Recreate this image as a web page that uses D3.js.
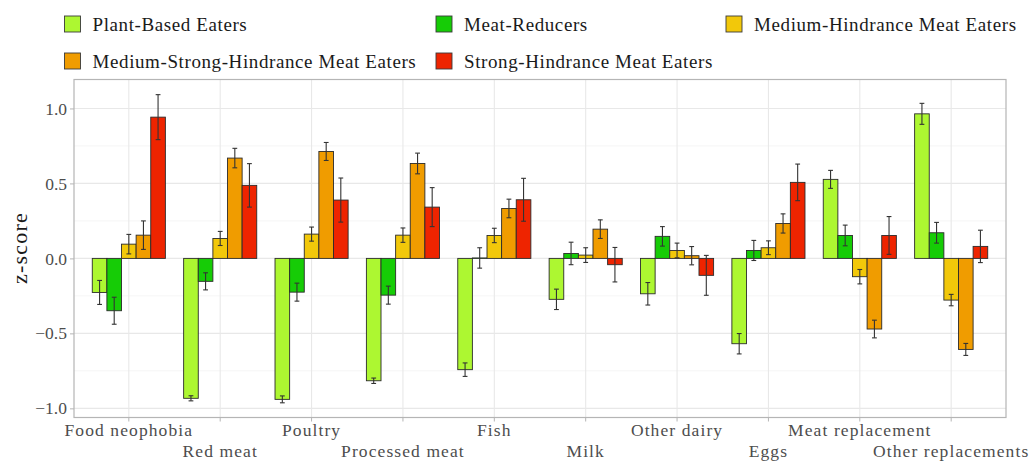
<!DOCTYPE html>
<html>
<head>
<meta charset="utf-8">
<script src="https://cdn.jsdelivr.net/npm/d3@7"></script>
<style>
  html, body { margin: 0; padding: 0; background: #fff; }
  svg text { font-family: "Liberation Serif", "Times New Roman", serif; }
</style>
</head>
<body>
<svg id="chart" width="1032" height="461"></svg>
<script>
const SERIF = "'Liberation Serif', 'Times New Roman', serif";

// Food categories along the x axis
const categories = ["Food neophobia", "Red meat", "Poultry", "Processed meat", "Fish",
  "Milk", "Other dairy", "Eggs", "Meat replacement", "Other replacements"];

// Consumer segments (legend order)
const segments = ["Plant-Based Eaters", "Meat-Reducers", "Medium-Hindrance Meat Eaters",
  "Medium-Strong-Hindrance Meat Eaters", "Strong-Hindrance Meat Eaters"];
const segmentColors = ["#adf731", "#16cc06", "#f2c80a", "#f09c00", "#ee2400"];

// Mean z-scores per segment and their error-bar half widths
const plantBased        = [-0.227, -0.933, -0.940, -0.816, -0.742, -0.273, -0.236, -0.569, 0.527, 0.964];
const plantBasedErr     = [0.080, 0.017, 0.023, 0.018, 0.045, 0.068, 0.075, 0.068, 0.060, 0.070];
const meatReducers      = [-0.349, -0.153, -0.225, -0.245, 0.003, 0.033, 0.147, 0.053, 0.153, 0.171];
const meatReducersErr   = [0.090, 0.057, 0.060, 0.060, 0.068, 0.075, 0.065, 0.067, 0.069, 0.069];
const mediumHindrance   = [0.095, 0.133, 0.162, 0.155, 0.153, 0.022, 0.053, 0.071, -0.122, -0.278];
const mediumHindranceErr= [0.065, 0.047, 0.047, 0.048, 0.048, 0.049, 0.049, 0.046, 0.048, 0.038];
const mediumStrong      = [0.155, 0.669, 0.713, 0.633, 0.333, 0.195, 0.018, 0.233, -0.471, -0.607];
const mediumStrongErr   = [0.095, 0.065, 0.060, 0.069, 0.062, 0.062, 0.061, 0.064, 0.059, 0.040];
const strongHindrance   = [0.942, 0.487, 0.389, 0.342, 0.391, -0.042, -0.113, 0.507, 0.153, 0.080];
const strongHindranceErr= [0.150, 0.145, 0.147, 0.130, 0.143, 0.115, 0.133, 0.122, 0.126, 0.108];

const yTicks = [-1.0, -0.5, 0.0, 0.5, 1.0];
const yMinorTicks = [-0.75, -0.25, 0.25, 0.75];
const yTitle = "z-score";

const seriesValues = [plantBased, meatReducers, mediumHindrance, mediumStrong, strongHindrance];
const seriesErrors = [plantBasedErr, meatReducersErr, mediumHindranceErr, mediumStrongErr, strongHindranceErr];

const rows = [];
categories.forEach((c, i) => {
  segments.forEach((s, j) => {
    rows.push({ category: c, segment: s, value: seriesValues[j][i], err: seriesErrors[j][i], color: segmentColors[j] });
  });
});

const svg = d3.select("#chart");
const panel = { left: 74, right: 1006, top: 79.5, bottom: 417.5 };

const x = d3.scaleBand().domain(categories)
  .range([panel.left, panel.right]).paddingInner(0.2).paddingOuter(0.2);
const xInner = d3.scaleBand().domain(segments).range([0, x.bandwidth()]).padding(0);
const y = d3.scaleLinear().domain([-1.061, 1.193]).range([panel.bottom, panel.top]);

// Panel grid
const grid = svg.append("g");
grid.selectAll("line.minor").data(yMinorTicks).join("line")
  .attr("x1", panel.left).attr("x2", panel.right)
  .attr("y1", d => y(d)).attr("y2", d => y(d))
  .attr("stroke", "#f3f3f3").attr("stroke-width", 0.8);
grid.selectAll("line.major").data(yTicks).join("line")
  .attr("x1", panel.left).attr("x2", panel.right)
  .attr("y1", d => y(d)).attr("y2", d => y(d))
  .attr("stroke", "#e8e8e8").attr("stroke-width", 1.1);
grid.selectAll("line.vert").data(categories).join("line")
  .attr("x1", d => x(d) + x.bandwidth() / 2).attr("x2", d => x(d) + x.bandwidth() / 2)
  .attr("y1", panel.top).attr("y2", panel.bottom)
  .attr("stroke", "#e8e8e8").attr("stroke-width", 1.1);

// Bars
const zeroY = y(0);
svg.append("g").selectAll("rect").data(rows).join("rect")
  .attr("x", d => x(d.category) + xInner(d.segment))
  .attr("width", xInner.bandwidth())
  .attr("y", d => Math.min(y(d.value), zeroY))
  .attr("height", d => Math.abs(y(d.value) - zeroY))
  .attr("fill", d => d.color)
  .attr("stroke", "#2b2b2b").attr("stroke-width", 0.9);

// Error bars
const capHalf = 2.4;
const eb = svg.append("g").attr("stroke", "#333").attr("stroke-width", 1.1);
rows.forEach(d => {
  const cx = x(d.category) + xInner(d.segment) + xInner.bandwidth() / 2;
  const yHi = y(d.value + d.err), yLo = y(d.value - d.err);
  eb.append("line").attr("x1", cx).attr("x2", cx).attr("y1", yHi).attr("y2", yLo);
  eb.append("line").attr("x1", cx - capHalf).attr("x2", cx + capHalf).attr("y1", yHi).attr("y2", yHi);
  eb.append("line").attr("x1", cx - capHalf).attr("x2", cx + capHalf).attr("y1", yLo).attr("y2", yLo);
});

// Panel border
svg.append("rect")
  .attr("x", panel.left).attr("y", panel.top)
  .attr("width", panel.right - panel.left).attr("height", panel.bottom - panel.top)
  .attr("fill", "none").attr("stroke", "#b5b5b5").attr("stroke-width", 1.2);

// Y axis
const fmt = d => (d < 0 ? "\u2212" : "") + Math.abs(d).toFixed(1);
const yAxis = svg.append("g").attr("transform", `translate(${panel.left},0)`)
  .call(d3.axisLeft(y).tickValues(yTicks).tickFormat(fmt).tickSize(4).tickPadding(3));
yAxis.attr("font-family", null);
yAxis.select(".domain").remove();
yAxis.selectAll(".tick line").attr("stroke", "#b5b5b5");
yAxis.selectAll(".tick text").attr("fill", "#4d4d4d")
  .style("font-family", SERIF).style("font-size", "17.5px");

// X axis with staggered labels
const xAxis = svg.append("g").attr("transform", `translate(0,${panel.bottom})`)
  .call(d3.axisBottom(x).tickSize(4).tickPadding(2));
xAxis.attr("font-family", null);
xAxis.select(".domain").remove();
xAxis.selectAll(".tick line").attr("stroke", "#b5b5b5");
xAxis.selectAll(".tick text")
  .attr("fill", "#4d4d4d")
  .attr("dy", null)
  .attr("y", (d, i) => i % 2 === 0 ? 18.5 : 39)
  .style("font-family", SERIF).style("font-size", "17.5px")
  .style("letter-spacing", "1.1px");

// Y axis title
svg.append("text")
  .attr("transform", `translate(27,248) rotate(-90)`)
  .attr("text-anchor", "middle")
  .attr("fill", "#1a1a1a")
  .style("font-family", SERIF)
  .style("font-size", "22px").style("letter-spacing", "1.2px")
  .text(yTitle);

// Legend (two rows, filled row-wise)
const legendPos = [
  { x: 64.5, y: 24 }, { x: 436, y: 24 }, { x: 726, y: 24 },
  { x: 64.5, y: 61 }, { x: 436, y: 61 }
];
const legend = svg.append("g");
segments.forEach((s, j) => {
  const g = legend.append("g").attr("transform", `translate(${legendPos[j].x},${legendPos[j].y})`);
  g.append("rect").attr("x", 0).attr("y", -8).attr("width", 16).attr("height", 16)
    .attr("fill", segmentColors[j]).attr("stroke", "#3a3a3a").attr("stroke-width", 0.9);
  g.append("text").attr("x", 28).attr("y", 0).attr("dy", "0.35em")
    .attr("fill", "#1a1a1a")
    .style("font-family", SERIF)
    .style("font-size", "19px").style("letter-spacing", "0.6px")
    .text(s);
});
</script>
</body>
</html>
